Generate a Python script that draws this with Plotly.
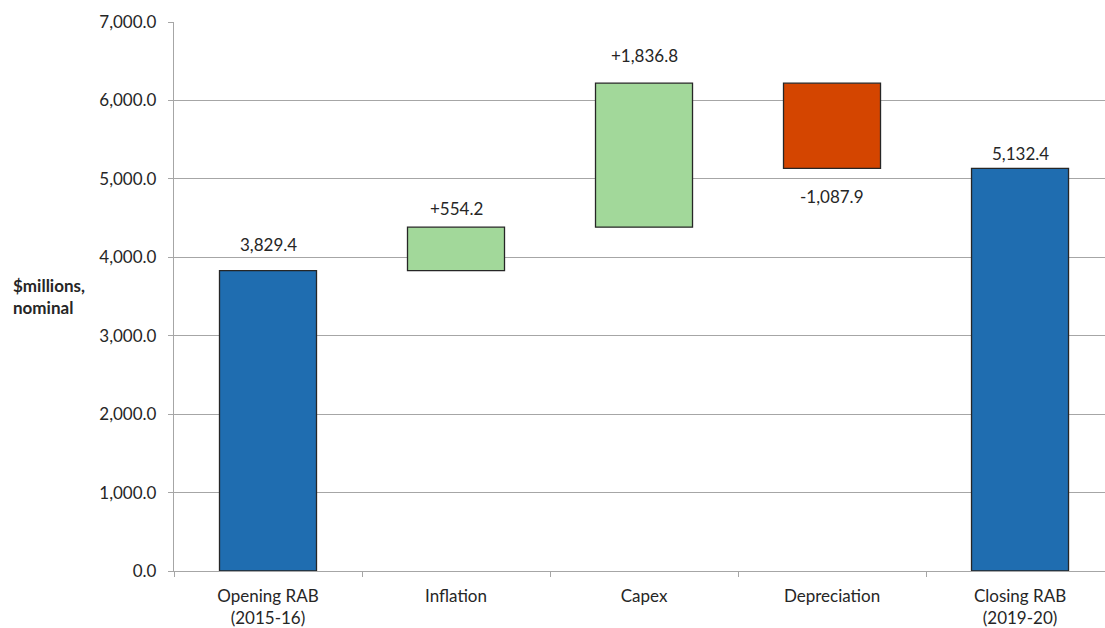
import plotly.graph_objects as go

categories = ["Opening RAB<br>(2015-16)", "Inflation", "Capex", "Depreciation", "Closing RAB<br>(2019-20)"]
measures = ["total", "relative", "relative", "relative", "total"]
values = [3829.4, 554.2, 1836.8, -1087.9, 5132.4]
y_ticks = [0, 1000, 2000, 3000, 4000, 5000, 6000, 7000]

# label offsets (pixels) from bar end, as placed in the original
label_shifts = [26, 19, 28, -28, 15]

COL_TOTAL = "#1F6DB0"
COL_UP = "#A2D89A"
COL_DOWN = "#D44500"
FONT = "Lato, 'Open Sans', sans-serif"
FS = 17

bases, heights, colors, labels, label_y = [], [], [], [], []
running = 0.0
for m, v in zip(measures, values):
    if m == "total":
        b, h, c = 0.0, v, COL_TOTAL
        running = v
        lab = f"{v:,.1f}"
    else:
        b, h = running, v
        c = COL_UP if v >= 0 else COL_DOWN
        running += v
        lab = f"{v:+,.1f}"
    bases.append(b)
    heights.append(h)
    colors.append(c)
    labels.append(lab)
    label_y.append(b + h)

fig = go.Figure()
fig.add_trace(go.Bar(
    x=categories, y=heights, base=bases,
    marker=dict(color=colors, line=dict(color="#262626", width=1.3)),
    width=0.516, showlegend=False, hoverinfo="skip",
))

for x, y, t, s in zip(categories, label_y, labels, label_shifts):
    fig.add_annotation(x=x, y=y, text=t, showarrow=False, yshift=s,
                       font=dict(family=FONT, size=FS, color="#262626"))

fig.add_annotation(xref="paper", yref="paper", x=-0.134, y=0.50, xanchor="center",
                   text="<b>$millions,<br>nominal</b>", showarrow=False, align="left",
                   font=dict(family=FONT, size=FS, color="#262626"))

fig.update_layout(
    width=1105, height=628,
    margin=dict(l=174, r=0, t=22, b=57),
    paper_bgcolor="white", plot_bgcolor="white",
    font=dict(family=FONT, size=FS, color="#262626"),
    xaxis=dict(range=[-0.5, 4.452], showline=True, linecolor="#a6a6a6", linewidth=1.3,
               ticks="outside", tickson="boundaries", ticklen=5, tickcolor="#a6a6a6",
               showgrid=False, tickfont=dict(size=FS), ticklabelstandoff=9),
    yaxis=dict(range=[0, 7000], tickvals=y_ticks, tickformat=",.1f",
               showline=True, linecolor="#a6a6a6", linewidth=1.3,
               ticks="outside", ticklen=5, tickcolor="#a6a6a6",
               showgrid=True, gridcolor="#a6a6a6", gridwidth=1.3,
               zeroline=False, tickfont=dict(size=FS), ticklabelstandoff=8),
)

fig.write_html("out.html")
